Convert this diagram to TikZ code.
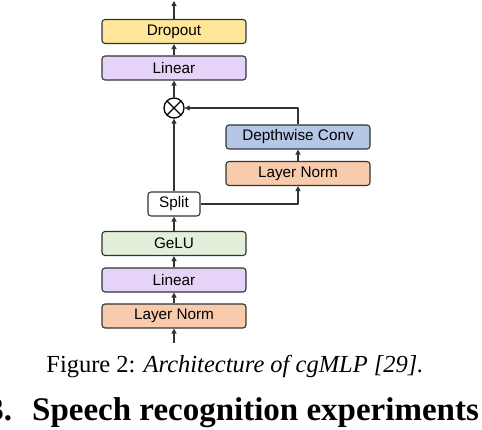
\documentclass[tikz,border=0pt]{standalone}
\usepackage{fontspec}
\setmainfont{Liberation Serif}
\newfontfamily\blockfont{Liberation Sans}
\usetikzlibrary{arrows.meta}
\definecolor{edgecol}{HTML}{333333}
\definecolor{dropcol}{HTML}{FFE699}
\definecolor{lincol}{HTML}{E6D4F8}
\definecolor{convcol}{HTML}{B4C7E7}
\definecolor{normcol}{HTML}{F8CBAD}
\definecolor{gelucol}{HTML}{E2EFDA}
\tikzset{
  block/.style={draw=edgecol, line width=1.1pt, rounded corners=3pt, minimum width=144pt,
    minimum height=24pt, inner sep=0pt, font=\blockfont\fontsize{15.3}{18}\selectfont},
  smallblock/.style={block, minimum width=52pt, fill=white},
  mult/.style={draw=black, line width=1.3pt, circle, minimum size=20pt, inner sep=0pt,
    path picture={\draw[line width=1.3pt] (path picture bounding box.south west) -- (path picture bounding box.north east)
      (path picture bounding box.north west) -- (path picture bounding box.south east);}},
  flow/.style={draw=edgecol, line width=1.1pt, ->}
}
\begin{document}
\begin{tikzpicture}[x=1pt, y=-1pt, line join=round, >={Triangle[length=5pt,width=5pt]}]
\useasboundingbox (0,0) rectangle (482,430);
% main branch
\node[block, fill=normcol] (norm1) at (174,316) {Layer Norm};
\node[block, fill=lincol] (lin1) at (174,280) {Linear};
\node[block, fill=gelucol] (gelu) at (174,243.5) {GeLU};
\node[smallblock] (split) at (174,204) {Split};
\node[mult] (mul) at (174,108) {};
\node[block, fill=lincol] (lin2) at (174,68) {Linear};
\node[block, fill=dropcol] (drop) at (174,31.5) {Dropout};
% gating branch
\node[block, fill=normcol] (norm2) at (298,173.5) {Layer Norm};
\node[block, fill=convcol] (conv) at (298,137) {Depthwise Conv};
\coordinate (in) at (174,343);
\coordinate (out) at (174,1);
% arrows
\draw[flow] (in) -- (norm1);
\draw[flow] (norm1) -- (lin1);
\draw[flow] (lin1) -- (gelu);
\draw[flow] (gelu) -- (split);
\draw[flow] (split) -- (mul);
\draw[flow] (split.east) -| (norm2.south);
\draw[flow] (norm2) -- (conv);
\draw[flow] (conv.north) |- (mul.east);
\draw[flow] (mul) -- (lin2);
\draw[flow] (lin2) -- (drop);
\draw[flow] (drop) -- (out);
% caption and heading
\node[anchor=base, inner sep=0pt, font=\fontsize{24.5}{29}\selectfont] (caption) at (235,372)
  {Figure 2: \textit{Architecture of cgMLP [29].}};
\node[anchor=base east, inner sep=0pt, font=\fontsize{33}{38}\selectfont\bfseries] (secnum) at (12.3,420) {3.};
\node[anchor=base west, inner sep=0pt, font=\fontsize{33}{38}\selectfont\bfseries] (sectitle) at (32,420)
  {Speech recognition experiments};
\end{tikzpicture}
\end{document}
